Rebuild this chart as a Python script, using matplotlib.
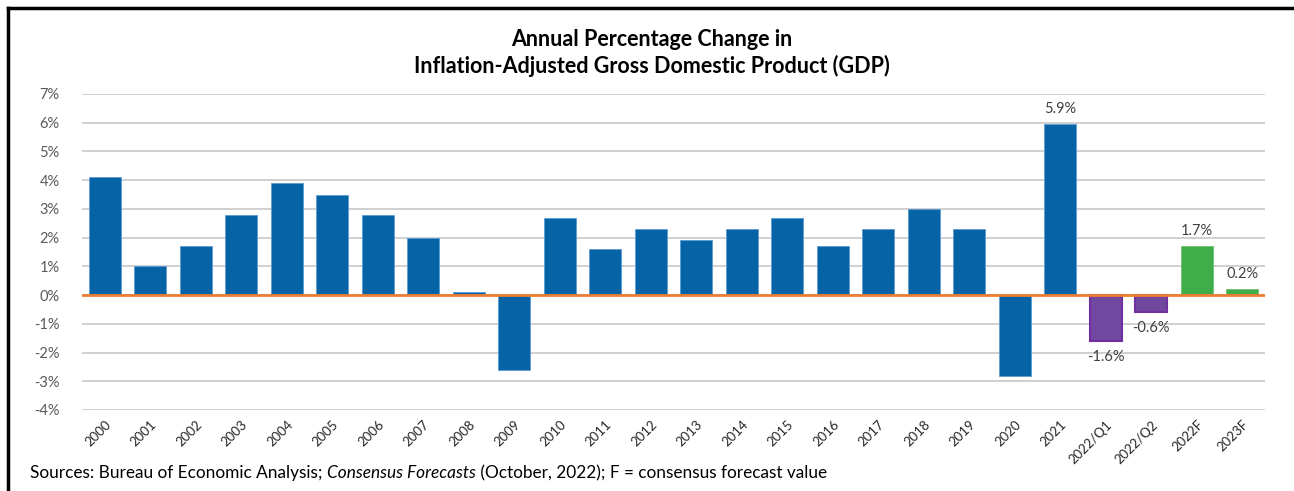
import numpy as np
import matplotlib
matplotlib.use('Agg')
from matplotlib import pyplot as plt
from matplotlib.lines import Line2D

plt.rcParams['font.family'] = ['Lato', 'DejaVu Sans']

# data
labels = ['2000', '2001', '2002', '2003', '2004', '2005', '2006', '2007', '2008',
          '2009', '2010', '2011', '2012', '2013', '2014', '2015', '2016', '2017',
          '2018', '2019', '2020', '2021', '2022/Q1', '2022/Q2', '2022F', '2023F']
values = [4.1, 1.0, 1.7, 2.8, 3.9, 3.5, 2.8, 2.0, 0.1,
          -2.6, 2.7, 1.6, 2.3, 1.9, 2.3, 2.7, 1.7, 2.3,
          3.0, 2.3, -2.8, 5.95, -1.6, -0.6, 1.7, 0.2]
kinds = ['actual'] * 22 + ['quarter'] * 2 + ['forecast'] * 2
value_labels = {'2021': '5.9%', '2022/Q1': '-1.6%', '2022/Q2': '-0.6%',
                '2022F': '1.7%', '2023F': '0.2%'}

fill = {'actual': '#0563A6', 'quarter': '#7048A0', 'forecast': '#3EAD4A'}
edge = {'actual': '#5B9BD5', 'quarter': '#7030A0', 'forecast': '#70C070'}

fig = plt.figure(figsize=(12.94, 4.91), dpi=100)
ax = fig.add_axes([0.0634, 0.165, 0.9142, 0.6436])

x = np.arange(len(labels))
for i, (v, k) in enumerate(zip(values, kinds)):
    ax.bar(x[i], v, width=0.7, color=fill[k], edgecolor=edge[k],
           linewidth=1.5 if k == 'quarter' else 0.6, zorder=3)

ax.axhline(0, color='#ED7D31', lw=2, zorder=4)

for i, lab in enumerate(labels):
    if lab in value_labels:
        v = values[i]
        off = 0.3 if v >= 0 else -0.3
        ax.text(x[i], v + off, value_labels[lab], ha='center',
                va='bottom' if v >= 0 else 'top', fontsize=10.5, color='#404040')

ax.set_xlim(-0.5, len(labels) - 0.5)
ax.set_ylim(-4, 7)
ax.set_yticks(range(-4, 8))
ax.set_yticklabels(['%d%%' % t for t in range(-4, 8)], fontsize=10.5, color='#595959')
ax.set_xticks(x)
ax.set_xticklabels(labels, rotation=45, ha='right', rotation_mode='anchor',
                   fontsize=9.5, color='#262626')
ax.tick_params(axis='y', length=0, pad=16)
ax.tick_params(axis='x', length=0, pad=6)
ax.yaxis.grid(True, color='#C8C8C8', lw=1.2, zorder=0)
for s in ax.spines.values():
    s.set_visible(False)

fig.text(0.504, 0.892, 'Annual Percentage Change in\nInflation-Adjusted Gross Domestic Product (GDP)',
         ha='center', va='center', fontsize=15.5, fontweight='bold', linespacing=1.3)

# source line with italic part
fs = 12.4
t1 = fig.text(30 / 1294, 1 - 473 / 491, 'Sources: Bureau of Economic Analysis; ',
              fontsize=fs, va='center')
t2 = fig.text(0, 0, 'Consensus Forecasts', fontsize=fs, style='italic')
t3 = fig.text(0, 0, ' (October, 2022); F = consensus forecast value', fontsize=fs)
fig.canvas.draw()
r = fig.canvas.get_renderer()
bb1 = t1.get_window_extent(r)
t2.set_position((bb1.x1 / fig.bbox.width, t1.get_position()[1]))
t2.set_va('center')
fig.canvas.draw()
bb2 = t2.get_window_extent(r)
t3.set_position((bb2.x1 / fig.bbox.width, t1.get_position()[1]))
t3.set_va('center')

# frame on top and left
fig.add_artist(Line2D([8 / 1294, 8 / 1294], [0, 1 - 8 / 491], transform=fig.transFigure,
                      color='black', lw=2.5))
fig.add_artist(Line2D([8 / 1294, 1], [1 - 8 / 491, 1 - 8 / 491], transform=fig.transFigure,
                      color='black', lw=2.5))

fig.savefig('out.png', dpi=100)
